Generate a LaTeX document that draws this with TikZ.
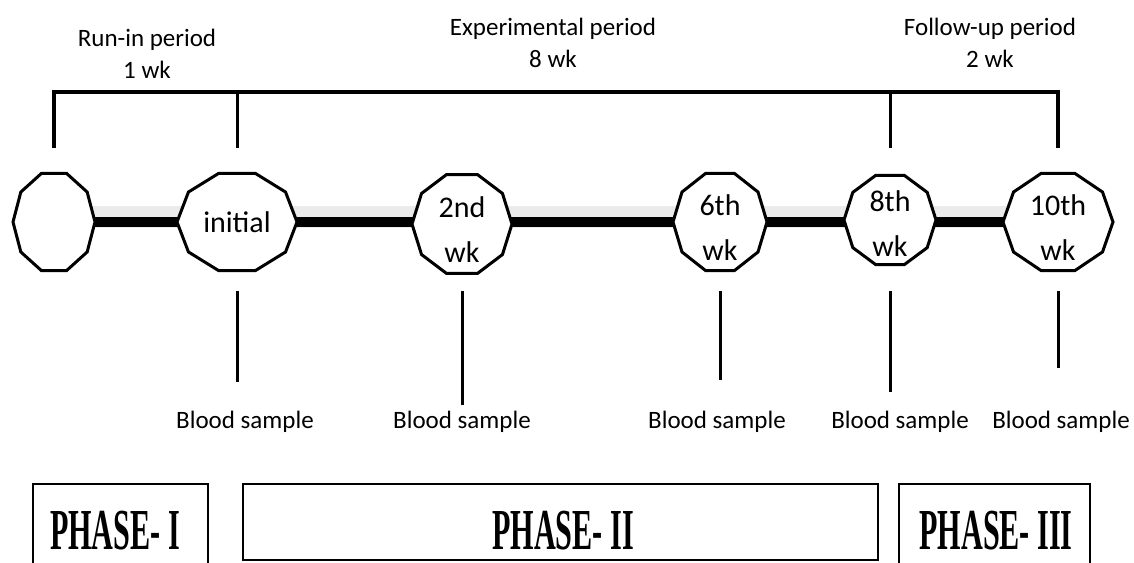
\documentclass[tikz,border=0pt]{standalone}
\usepackage{fontspec}
\setmainfont{Carlito}
\newfontfamily\phasefont{Liberation Serif}
\usetikzlibrary{calc,backgrounds}

\newcommand\decagon[4][0pt]{%
  \draw[stageedge] ([yshift=#1, shift={(0:#3 and #4)}]#2.center)
    \foreach \a in {36,72,...,324}{ -- ([yshift=#1, shift={(\a:#3 and #4)}]#2.center)} -- cycle;}

\begin{document}
\begin{tikzpicture}[x=1pt,y=-1pt,
	stage/.style={font=\fontsize{30}{45}\selectfont, align=center, inner sep=0pt},
	stageedge/.style={draw=black, line width=3pt, fill=white, line join=miter},
	timeline/.style={line width=10pt},
	haze/.style={line width=22pt, draw=black!8},
	bar/.style={line width=4pt, line join=miter},
	tick/.style={line width=3pt},
	period/.style={font=\fontsize{25}{32}\selectfont, align=center},
	sample/.style={font=\fontsize{25}{30}\selectfont},
	phasebox/.style={draw, line width=2.5pt},
	phase/.style={font=\phasefont\bfseries\fontsize{58}{58}\selectfont, inner sep=0pt}]

	\useasboundingbox (0,0) rectangle (1134,562);

	\node[stage] (start)   at (54,222)   {};
	\node[stage] (initial) at (237,222)  {initial};
	\node[stage] (wk2)     at (462,230)  {2nd\\wk};
	\node[stage] (wk6)     at (720,228)  {6th\\wk};
	\node[stage] (wk8)     at (890,224)  {8th\\wk};
	\node[stage] (wk10)    at (1058,228) {10th\\wk};

	\begin{scope}[on background layer]
		\draw[haze] ([yshift=5pt]start.center) -- ([yshift=5pt]wk10.center |- start.center);
		\draw[timeline] (start.center) -- (wk10.center |- start.center);
		\decagon{start}{41}{51}
		\decagon{initial}{60}{51}
		\decagon[6pt]{wk2}{50}{52}
		\decagon[6pt]{wk6}{47}{51}
		\decagon[4pt]{wk8}{46}{47}
		\decagon[6pt]{wk10}{55}{51}
	\end{scope}

	\draw[bar] (start |- 0,148) -- (start |- 0,92) -- (wk10 |- 0,92) -- (wk10 |- 0,148);
	\draw[tick] (initial |- 0,92) -- (initial |- 0,148);
	\draw[tick] (wk8 |- 0,92) -- (wk8 |- 0,148);

	\node[period] (runin)  at (147,54) {Run-in period\\1 wk};
	\node[period] (expt)   at (553,43) {Experimental period\\8 wk};
	\node[period] (follow) at (990,43) {Follow-up period\\2 wk};

	\foreach \n/\b/\dx in {initial/382/8, wk2/405/0, wk6/380/-3, wk8/392/10, wk10/368/3} {
		\draw[tick] (\n |- 0,291) -- (\n |- 0,\b);
		\node[sample, anchor=base] (blood-\n) at ([xshift=\dx pt]\n |- 0,428) {Blood sample};
	}

	\node[phasebox, minimum width=175pt, minimum height=100pt] (ph1) at (120.5,534) {};
	\node[phasebox, minimum width=635pt, minimum height=76pt]  (ph2) at (560.5,522) {};
	\node[phasebox, minimum width=191pt, minimum height=100pt] (ph3) at (994.5,534) {};

	\node[phase] (lab1) at (115,531) {\scalebox{0.52}[1]{PHASE- I}};
	\node[phase] (lab2) at (563,531) {\scalebox{0.52}[1]{PHASE- II}};
	\node[phase] (lab3) at (996,531) {\scalebox{0.52}[1]{PHASE- III}};

\end{tikzpicture}
\end{document}
